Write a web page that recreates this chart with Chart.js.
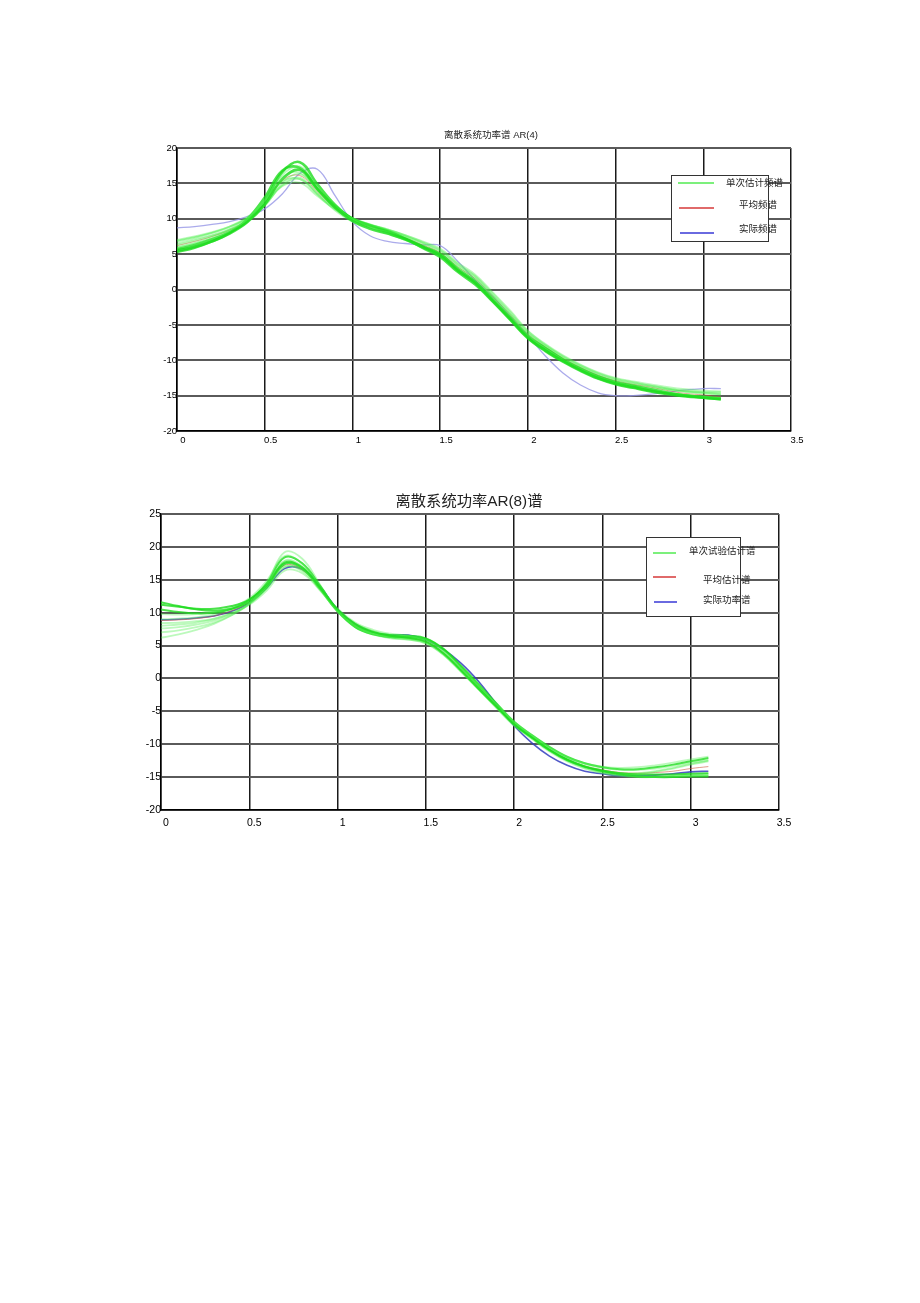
<!DOCTYPE html>
<html><head><meta charset="utf-8">
<script src="https://cdn.jsdelivr.net/npm/chart.js@4.4.0/dist/chart.umd.min.js"></script>
<style>
html,body{margin:0;padding:0;background:#fff;width:920px;height:1303px;overflow:hidden;position:relative;font-family:"Liberation Sans","Noto Sans CJK SC",sans-serif;}
canvas{position:absolute;left:0;}
.title{position:absolute;white-space:nowrap;color:#222;transform:translate(-50%,-50%);line-height:1;}
.legend{position:absolute;background:#fff;border:1px solid #333;box-sizing:border-box;}
.lg-line{position:absolute;height:2px;}
.lg-text{position:absolute;white-space:nowrap;transform:translateY(-50%);color:#222;line-height:1;}
</style></head><body>
<canvas id="c1" width="920" height="460" style="top:0px"></canvas>
<canvas id="c2" width="920" height="370" style="top:470px"></canvas>
<div id="overlay"></div>
<script>
// ---------- data ----------
const xs = [0,0.1,0.2,0.3,0.4,0.5,0.6,0.7,0.8,0.9,1.0,1.1,1.2,1.3,1.4,1.5,1.6,1.7,1.8,1.9,2.0,2.1,2.2,2.3,2.4,2.5,2.6,2.7,2.8,2.9,3.0,3.1];
const xTickLabels = ['0','0.5','1','1.5','2','2.5','3','3.5'];
const yTickLabelsAR4 = ['-20','-15','-10','-5','0','5','10','15','20'];
const yTickLabelsAR8 = ['-20','-15','-10','-5','0','5','10','15','20','25'];
const titleAR4 = '离散系统功率谱 AR(4)';
const titleAR8 = '离散系统功率AR(8)谱';
const legendAR4 = ['单次估计频谱','平均频谱','实际频谱'];
const legendAR8 = ['单次试验估计谱','平均估计谱','实际功率谱'];

// AR(4) single-trial estimates
const ar4Trial1 = [5.5,6.0,6.8,7.9,9.5,12.0,15.6,16.9,14.2,11.6,9.7,8.6,7.9,7.1,6.0,4.8,2.7,0.9,-1.6,-4.2,-6.8,-8.6,-10.1,-11.4,-12.5,-13.3,-13.8,-14.3,-14.7,-15.0,-15.3,-15.5];
const ar4Trial2 = [6.8,7.3,8.0,8.9,10.2,12.5,15.3,15.6,13.4,11.3,9.9,9.1,8.5,7.7,6.7,5.6,3.6,1.9,-0.6,-3.2,-5.9,-7.8,-9.4,-10.7,-11.8,-12.6,-13.1,-13.6,-14.0,-14.3,-14.5,-14.7];
const ar4Trial3 = [5.9,6.5,7.2,8.2,9.8,12.6,16.2,17.4,14.6,11.9,9.9,8.8,8.0,7.0,5.9,4.7,2.6,0.8,-1.5,-4.0,-6.6,-8.4,-10.0,-11.3,-12.4,-13.2,-13.7,-14.1,-14.5,-14.9,-15.1,-15.3];
const ar4Trial4 = [6.5,7.1,7.7,8.5,9.7,11.8,14.8,15.8,13.5,11.2,9.6,8.8,8.2,7.5,6.6,5.5,3.5,1.8,-0.8,-3.4,-6.1,-7.9,-9.5,-10.8,-11.9,-12.7,-13.2,-13.6,-14.0,-14.4,-14.6,-14.8];
const ar4Trial5 = [5.7,6.3,7.1,8.1,9.6,12.4,16.6,18.0,14.9,12.0,10.0,9.0,8.2,7.2,6.1,5.0,2.9,1.1,-1.4,-4.0,-6.6,-8.3,-9.9,-11.2,-12.3,-13.1,-13.6,-14.1,-14.6,-15.0,-15.2,-15.4];
const ar4Trial6 = [6.9,7.4,8.0,8.8,10.1,12.1,14.6,15.1,13.2,11.4,10.1,9.2,8.5,7.6,6.5,5.3,3.3,1.6,-0.9,-3.5,-6.2,-8.0,-9.6,-10.9,-12.0,-12.8,-13.3,-13.7,-14.1,-14.5,-14.7,-14.9];
const ar4Trial7 = [6.0,6.6,7.4,8.5,10.0,12.7,15.9,16.5,14.0,11.7,10.1,9.2,8.4,7.4,6.2,4.9,2.8,1.0,-1.5,-4.1,-6.7,-8.5,-10.1,-11.4,-12.4,-13.2,-13.7,-14.2,-14.6,-14.9,-15.2,-15.4];
const ar4Trial8 = [6.3,6.9,7.6,8.4,9.7,12.0,15.1,16.3,14.1,11.8,9.8,8.7,7.9,7.0,6.0,5.0,3.1,1.4,-1.1,-3.7,-6.4,-8.2,-9.8,-11.1,-12.2,-13.0,-13.5,-13.9,-14.2,-14.4,-14.5,-14.5];
const ar4Trial9 = [5.3,5.9,6.8,8.0,9.9,13.0,16.8,17.2,14.3,11.8,10.0,9.1,8.3,7.2,5.9,4.6,2.5,0.7,-1.7,-4.3,-6.9,-8.7,-10.2,-11.5,-12.6,-13.4,-13.9,-14.4,-14.8,-15.1,-15.3,-15.5];
const ar4Trial10 = [7.0,7.5,8.1,8.9,10.0,11.9,14.7,15.6,13.6,11.5,9.9,9.0,8.4,7.7,6.8,5.8,3.8,2.1,-0.4,-3.0,-5.8,-7.7,-9.3,-10.6,-11.7,-12.5,-13.0,-13.4,-13.8,-14.1,-14.3,-14.4];
const ar4Mean = [6.2,6.8,7.5,8.4,9.8,12.2,15.4,16.1,13.8,11.5,9.8,8.9,8.2,7.3,6.3,5.2,3.2,1.5,-1.0,-3.6,-6.3,-8.1,-9.7,-11.0,-12.1,-12.9,-13.4,-13.8,-14.3,-14.7,-14.9,-15.2];
const ar4Actual = [8.7,8.9,9.2,9.6,10.3,11.4,13.5,16.4,17.0,13.3,9.6,7.6,6.8,6.5,6.3,6.2,4.0,1.3,-1.0,-3.8,-6.5,-9.4,-11.8,-13.5,-14.6,-15.0,-15.0,-14.8,-14.5,-14.2,-14.0,-14.0];

// AR(8) single-trial estimates
const ar8Trial1 = [11.2,10.9,10.6,10.6,11.0,12.0,14.2,17.6,16.9,13.8,10.5,8.3,7.1,6.5,6.2,5.6,3.8,1.2,-1.6,-4.3,-7.0,-9.0,-10.9,-12.4,-13.4,-14.0,-14.4,-14.6,-14.6,-14.6,-14.5,-14.4];
const ar8Trial2 = [7.0,7.3,7.8,8.5,9.6,11.3,14.1,17.8,16.8,13.7,10.2,7.9,6.8,6.3,6.1,5.7,4.1,1.5,-1.2,-4.0,-6.8,-8.8,-10.6,-12.0,-12.9,-13.4,-13.6,-13.5,-13.2,-12.8,-12.3,-11.9];
const ar8Trial3 = [9.8,9.7,9.8,10.1,10.8,12.2,14.9,18.6,17.4,14.0,10.4,8.0,6.8,6.2,5.9,5.3,3.6,1.0,-1.7,-4.5,-7.2,-9.2,-11.1,-12.6,-13.7,-14.4,-14.8,-15.0,-15.0,-14.9,-14.8,-14.7];
const ar8Trial4 = [8.0,8.2,8.5,9.0,9.9,11.2,13.4,16.4,16.0,13.4,10.3,8.3,7.2,6.6,6.4,5.9,4.2,1.6,-1.1,-3.9,-6.6,-8.6,-10.5,-12.0,-13.0,-13.6,-13.9,-13.9,-13.7,-13.3,-12.8,-12.4];
const ar8Trial5 = [10.5,10.1,9.9,10.0,10.6,11.9,14.5,18.4,17.5,14.1,10.3,7.8,6.7,6.3,6.3,6.0,4.4,1.7,-1.2,-4.1,-6.9,-8.9,-10.8,-12.3,-13.4,-14.1,-14.6,-14.9,-15.0,-15.0,-14.9,-14.9];
const ar8Trial6 = [6.2,6.7,7.4,8.3,9.6,11.4,14.0,17.0,16.3,13.5,10.4,8.2,7.0,6.4,6.1,5.5,3.7,1.1,-1.6,-4.3,-7.0,-9.0,-10.9,-12.4,-13.5,-14.2,-14.5,-14.5,-14.2,-13.7,-13.1,-12.6];
const ar8Trial7 = [9.0,9.1,9.3,9.7,10.5,11.9,14.6,19.2,18.2,14.3,10.2,7.8,6.7,6.1,5.9,5.4,3.8,1.2,-1.5,-4.3,-7.0,-9.0,-10.9,-12.4,-13.5,-14.1,-14.4,-14.4,-14.1,-13.6,-13.0,-12.5];
const ar8Trial8 = [8.4,8.5,8.7,9.1,10.0,11.4,13.7,16.9,16.5,13.8,10.6,8.5,7.4,6.8,6.5,5.8,4.0,1.3,-1.4,-4.2,-6.9,-8.8,-10.7,-12.2,-13.3,-14.0,-14.5,-14.8,-14.9,-14.9,-14.8,-14.8];
const ar8Trial9 = [11.6,11.0,10.5,10.3,10.6,11.6,13.9,17.4,16.7,13.6,10.2,8.0,7.0,6.6,6.5,6.1,4.5,1.9,-0.9,-3.8,-6.6,-8.6,-10.4,-11.9,-12.9,-13.5,-13.8,-13.8,-13.5,-13.1,-12.6,-12.1];
const ar8Trial10 = [7.6,7.8,8.2,8.8,9.8,11.3,13.8,17.9,17.0,13.9,10.4,8.1,6.9,6.3,6.0,5.4,3.6,1.0,-1.7,-4.4,-7.1,-9.1,-11.0,-12.5,-13.6,-14.3,-14.7,-14.9,-14.9,-14.8,-14.6,-14.5];
const ar8Mean = [8.8,8.9,9.1,9.5,10.3,11.6,14.0,17.2,16.5,13.6,10.3,8.1,7.0,6.4,6.1,5.6,3.9,1.3,-1.4,-4.2,-6.9,-8.9,-10.8,-12.3,-13.3,-13.9,-14.3,-14.4,-14.3,-14.1,-13.7,-13.4];
const ar8Actual = [8.9,9.0,9.2,9.5,10.2,11.5,13.8,16.7,16.6,14.0,10.5,8.2,7.0,6.6,6.6,5.9,4.4,2.3,-0.5,-3.9,-7.2,-9.8,-11.8,-13.2,-14.1,-14.5,-14.8,-14.8,-14.7,-14.5,-14.2,-14.1];

const trialsAR4 = [ar4Trial1,ar4Trial2,ar4Trial3,ar4Trial4,ar4Trial5,ar4Trial6,ar4Trial7,ar4Trial8,ar4Trial9,ar4Trial10];
const trialsAR8 = [ar8Trial1,ar8Trial2,ar8Trial3,ar8Trial4,ar8Trial5,ar8Trial6,ar8Trial7,ar8Trial8,ar8Trial9,ar8Trial10];

// ---------- drawing ----------
const pts = arr => xs.map((x, i) => ({x: x, y: arr[i]}));

function makeChart(id, trials, mean, actual, cfg) {
  const datasets = [];
  trials.forEach((t, i) => {
    const strong = (i % 4 === 0);
    datasets.push({
      label: i === 0 ? cfg.names[0] : '',
      data: pts(t),
      borderColor: strong ? 'rgba(30,220,30,0.8)' : 'rgba(80,240,80,0.38)',
      borderWidth: strong ? cfg.strongWidth : 1.8
    });
  });
  datasets.push({label: cfg.names[1], data: pts(mean), borderColor: cfg.meanColor, borderWidth: 1});
  datasets.push({label: cfg.names[2], data: pts(actual), borderColor: cfg.actualColor, borderWidth: cfg.actualWidth});

  const font = {family: '"Liberation Sans", Arial, sans-serif', size: cfg.fontSize};
  return new Chart(document.getElementById(id), {
    type: 'line',
    data: {datasets: datasets},
    options: {
      responsive: false, animation: false, devicePixelRatio: 1,
      layout: {padding: cfg.pad},
      plugins: {legend: {display: false}, tooltip: {enabled: false}, title: {display: false}},
      elements: {point: {radius: 0}, line: {tension: 0.4, fill: false}},
      scales: {
        x: {
          type: 'linear', min: 0, max: 3.5,
          afterFit: s => { s.height = 20; },
          ticks: {stepSize: 0.5, padding: cfg.xPad, labelOffset: cfg.labelOffset, font: font, color: '#000',
                  maxRotation: 0, autoSkip: false, callback: (v, i) => xTickLabels[i]},
          grid: {color: '#1a1a1a', lineWidth: 1.5, drawTicks: false},
          border: {color: '#000', width: 1.5}
        },
        y: {
          type: 'linear', min: cfg.yMin, max: cfg.yMax,
          afterFit: s => { s.width = 40; },
          ticks: {stepSize: 5, padding: 0, font: font, color: '#000', callback: (v, i) => cfg.yLabels[i]},
          grid: {color: '#5a5a5a', lineWidth: 2, drawTicks: false},
          border: {color: '#000', width: 1.5}
        }
      }
    }
  });
}

makeChart('c1', trialsAR4, ar4Mean, ar4Actual, {
  names: legendAR4, yMin: -20, yMax: 20, yLabels: yTickLabelsAR4,
  pad: {left: 137, right: 129, top: 148, bottom: 9}, fontSize: 9.5, xPad: 4, labelOffset: 6, strongWidth: 2.6,
  meanColor: 'rgba(205,90,60,0.55)', actualColor: 'rgba(150,150,230,0.8)', actualWidth: 1.3
});
makeChart('c2', trialsAR8, ar8Mean, ar8Actual, {
  names: legendAR8, yMin: -20, yMax: 25, yLabels: yTickLabelsAR8,
  pad: {left: 121, right: 141, top: 44, bottom: 10}, fontSize: 10.5, xPad: 7, labelOffset: 5, strongWidth: 2,
  meanColor: 'rgba(205,90,60,0.6)', actualColor: 'rgba(50,60,190,0.85)', actualWidth: 1.6
});

// ---------- titles & legends (HTML text) ----------
const overlay = document.getElementById('overlay');
function addTitle(text, cx, cy, size) {
  const d = document.createElement('div');
  d.className = 'title'; d.textContent = text;
  d.style.left = cx + 'px'; d.style.top = cy + 'px'; d.style.fontSize = size + 'px';
  overlay.appendChild(d);
}
function addLegend(box, names, items, size) {
  const b = document.createElement('div');
  b.className = 'legend';
  b.style.left = box[0] + 'px'; b.style.top = box[1] + 'px';
  b.style.width = box[2] + 'px'; b.style.height = box[3] + 'px';
  overlay.appendChild(b);
  const colors = ['#7cf07c', '#e06a6a', '#6a6ae0'];
  names.forEach((n, i) => {
    const it = items[i];
    const l = document.createElement('div');
    l.className = 'lg-line';
    l.style.left = it[0] + 'px'; l.style.width = (it[1] - it[0]) + 'px';
    l.style.top = (it[2] - 1) + 'px'; l.style.background = colors[i];
    overlay.appendChild(l);
    const t = document.createElement('div');
    t.className = 'lg-text'; t.textContent = n;
    t.style.left = it[3] + 'px'; t.style.top = it[4] + 'px'; t.style.fontSize = size + 'px';
    overlay.appendChild(t);
  });
}
addTitle(titleAR4, 491, 135, 9.5);
addTitle(titleAR8, 469, 501, 15.3);
addLegend([671, 175, 98, 67], legendAR4,
  [[678, 714, 183, 726, 183], [679, 714, 208, 739, 204.5], [680, 714, 233, 739, 228.5]], 9.5);
addLegend([646, 537, 95, 80], legendAR8,
  [[653, 676, 553, 689, 550.5], [653, 676, 577, 703, 580], [654, 677, 602, 703, 599.5]], 9.5);
</script>
</body></html>
